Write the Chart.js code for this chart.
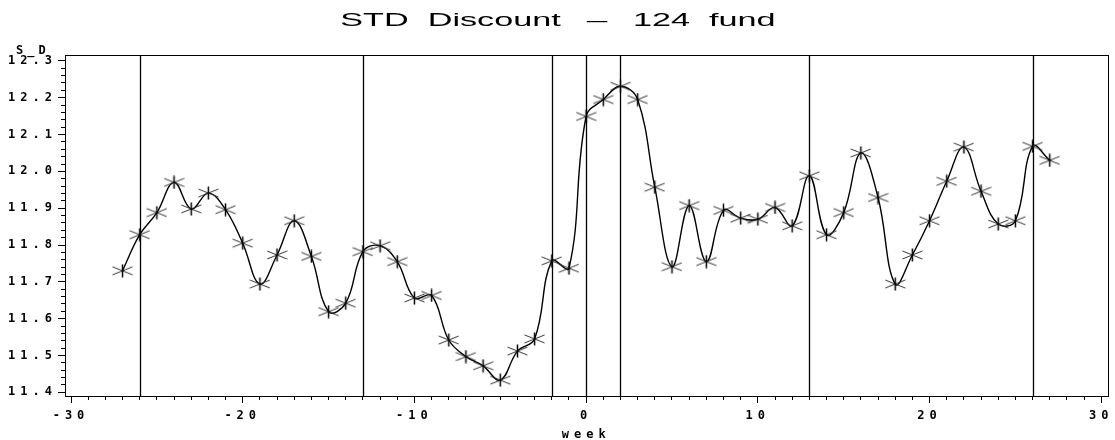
<!DOCTYPE html>
<html>
<head>
<meta charset="utf-8">
<script src="https://cdn.jsdelivr.net/npm/chart.js@4.4.1/dist/chart.umd.min.js"></script>
<style>
  body { margin: 0; background: #fff; }
  #wrap { position: relative; width: 1115px; height: 440px; }
  #title { position: absolute; top: 11px; left: 0; width: 1115px; text-align: center;
           font: 18px/18px "Liberation Sans", Arial, sans-serif; color: #000; white-space: pre;
           transform: scaleX(1.9); transform-origin: 557px 0; }
  #title .dash { display: inline-block; transform: scaleX(0.6); }
  #ylab { position: absolute; left: 16px; top: 44px; font: bold 12px/12px "DejaVu Sans Mono", monospace;
          letter-spacing: 4px; color: #000; }
</style>
</head>
<body>
<div id="wrap">
  <canvas id="myChart" width="1115" height="440"></canvas>
  <div id="title">STD  Discount  <span class="dash">—</span>  124  fund</div>
  <div id="ylab">S_D</div>
</div>
<script>
// weeks around the event, and the std of the discount for each week
var weeks = [-27, -26, -25, -24, -23, -22, -21, -20, -19, -18, -17, -16, -15, -14,
             -13, -12, -11, -10, -9, -8, -7, -6, -5, -4, -3, -2, -1,
             0, 1, 2, 3, 4, 5, 6, 7, 8, 9, 10, 11, 12, 13,
             14, 15, 16, 17, 18, 19, 20, 21, 22, 23, 24, 25, 26, 27];
var stdDiscount = [11.730, 11.828, 11.888, 11.970, 11.898, 11.941, 11.896, 11.805, 11.694, 11.773, 11.866, 11.769, 11.619, 11.642,
                   11.782, 11.798, 11.755, 11.656, 11.663, 11.542, 11.497, 11.472, 11.433, 11.512, 11.545, 11.757, 11.737,
                   12.149, 12.195, 12.231, 12.195, 11.957, 11.741, 11.907, 11.755, 11.894, 11.873, 11.870, 11.902, 11.852, 11.988,
                   11.828, 11.888, 12.050, 11.929, 11.694, 11.773, 11.866, 11.973, 12.066, 11.946, 11.857, 11.866, 12.068, 12.030];
var refWeeks = [-26, -13, -2, 0, 2, 13, 26]; // vertical reference lines
var xMin = -30.35, xMax = 30.37;
var yMin = 11.39, yMax = 12.316;

var tickFont = {family: 'DejaVu Sans Mono', size: 12, weight: 'bold'};

// asterisk marker like the SAS symbol=star
function makeStar(){
  var c = document.createElement('canvas');
  c.width = 21; c.height = 14;
  var g = c.getContext('2d');
  g.strokeStyle = '#333';
  g.lineWidth = 1;
  g.beginPath();
  g.moveTo(0.5, 3); g.lineTo(20.5, 11);
  g.moveTo(0.5, 11); g.lineTo(20.5, 3);
  g.stroke();
  g.strokeStyle = '#000';
  g.lineWidth = 1.5;
  g.beginPath();
  g.moveTo(10.5, 0.5); g.lineTo(10.5, 13.5);
  g.stroke();
  return c;
}

var points = [];
for (var i = 0; i < weeks.length; i++){
  points.push({x: weeks[i], y: stdDiscount[i]});
}

var sasLook = {
  id: 'sasLook',
  beforeDraw: function(chart){
    chart.ctx.letterSpacing = '5px'; //wide text like the original
  },
  beforeDatasetsDraw: function(chart){
    var ctx = chart.ctx, area = chart.chartArea, x = chart.scales.x;
    ctx.save();
    ctx.strokeStyle = '#000';
    ctx.lineWidth = 1.3;
    refWeeks.forEach(function(w){
      var px = Math.round(x.getPixelForValue(w)) + 0.5;
      ctx.beginPath();
      ctx.moveTo(px, area.top);
      ctx.lineTo(px, area.bottom);
      ctx.stroke();
    });
    ctx.restore();
  },
  afterDraw: function(chart){
    var ctx = chart.ctx, a = chart.chartArea;
    ctx.save();
    ctx.strokeStyle = '#000';
    ctx.lineWidth = 1;
    ctx.strokeRect(Math.round(a.left) + 0.5, Math.round(a.top) + 0.5,
                   Math.round(a.right - a.left), Math.round(a.bottom - a.top));
    ctx.restore();
    ctx.letterSpacing = '0px';
  }
};

var ctx = document.getElementById('myChart').getContext('2d');
var chart = new Chart(ctx, {
  type: 'line',
  data: {
    datasets: [{
      label: 'S_D',
      data: points,
      borderColor: '#000',
      borderWidth: 1.4,
      tension: 0.4,
      fill: false,
      pointStyle: makeStar(),
      pointRadius: 6,
      pointHoverRadius: 6
    }]
  },
  options: {
    responsive: false,
    animation: false,
    devicePixelRatio: 1,
    layout: {padding: {top: 55, right: 6, left: 0, bottom: 0}},
    plugins: {legend: {display: false}, tooltip: {enabled: false}, title: {display: false}},
    scales: {
      x: {
        type: 'linear', position: 'bottom', weight: 1, min: xMin, max: xMax,
        ticks: {stepSize: 10, includeBounds: false, color: '#000', font: tickFont, padding: 6,
                maxRotation: 0, autoSkip: false, callback: function(v){ return String(v); }},
        grid: {drawOnChartArea: false, tickLength: 7, color: '#000'},
        border: {display: true, color: '#000'},
        title: {display: true, text: 'week', color: '#000', font: tickFont, padding: {top: 0, bottom: -2}},
        afterFit: function(s){ s.height = 44; }
      },
      xMinor: {
        type: 'linear', position: 'bottom', weight: 0, min: xMin, max: xMax,
        ticks: {display: false, stepSize: 1, includeBounds: false},
        grid: {drawOnChartArea: false, tickLength: 4, color: '#000'},
        border: {display: false},
        afterFit: function(s){ s.height = 0; }
      },
      y: {
        type: 'linear', position: 'left', weight: 1, min: yMin, max: yMax,
        ticks: {stepSize: 0.1, includeBounds: false, color: '#000', font: tickFont, padding: 1,
                callback: function(v){ return v.toFixed(1); }},
        grid: {drawOnChartArea: false, tickLength: 7, color: '#000'},
        border: {display: true, color: '#000'},
        afterFit: function(s){ s.width = 65; }
      },
      yMinor: {
        type: 'linear', position: 'left', weight: 0, min: yMin, max: yMax,
        ticks: {display: false, stepSize: 0.02, includeBounds: false},
        grid: {drawOnChartArea: false, tickLength: 4, color: '#000'},
        border: {display: false},
        afterFit: function(s){ s.width = 0; }
      }
    }
  },
  plugins: [sasLook]
});
</script>
</body>
</html>
